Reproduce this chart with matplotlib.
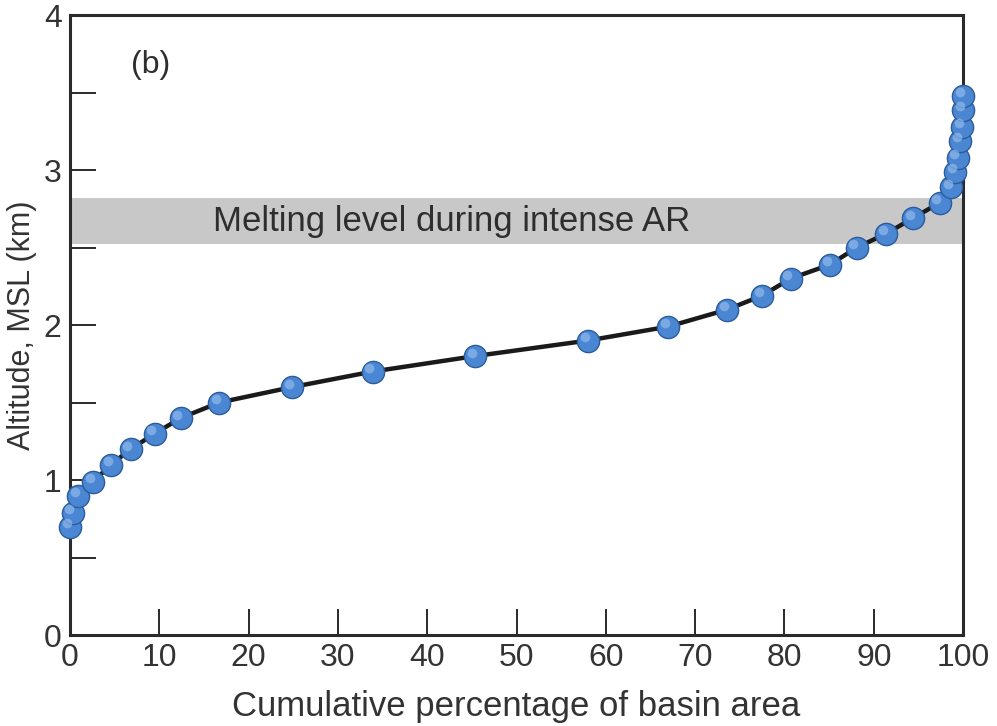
import matplotlib
matplotlib.use("Agg")
import matplotlib.pyplot as plt
from matplotlib.ticker import MultipleLocator
from matplotlib.transforms import offset_copy

plt.rcParams["font.family"] = ["Liberation Sans", "DejaVu Sans"]

# hypsometric curve
area_pct = [0.0, 0.3, 0.9, 2.6, 4.6, 6.8, 9.5, 12.4, 16.7, 24.9, 33.9, 45.4,
            58.0, 67.0, 73.6, 77.5, 80.7, 85.1, 88.1, 91.4, 94.4, 97.4, 98.7,
            99.1, 99.4, 99.7, 99.9, 100.0, 100.0]
altitude_km = [0.70, 0.79, 0.90, 0.99, 1.10, 1.20, 1.30, 1.40, 1.50, 1.60,
               1.70, 1.80, 1.90, 1.99, 2.10, 2.19, 2.30, 2.39, 2.50, 2.59,
               2.69, 2.79, 2.89, 2.99, 3.08, 3.19, 3.28, 3.39, 3.48]
melt_band = (2.52, 2.82)
band_label = "Melting level during intense AR"

fig = plt.figure(figsize=(9.97, 7.26), dpi=100)
ax = fig.add_axes([0.0702, 0.1253, 0.8958, 0.854])

ax.axhspan(melt_band[0], melt_band[1], color="#c8c8c8", zorder=1, lw=0)
ax.text(16, sum(melt_band) / 2, band_label, fontsize=25, color="#2e2e2e",
        va="center", ha="left", zorder=2)

ax.plot(area_pct, altitude_km, color="#1a1a1a", lw=3.2, zorder=3,
        solid_capstyle="round")
ax.plot(area_pct, altitude_km, "o", ms=16, mfc="#4a86d2", mec="#2c5c9c",
        mew=1.0, zorder=4, ls="none", clip_on=False)
# small highlight up and left of centre for a shaded-ball look
hl = offset_copy(ax.transData, fig=fig, x=-2.5, y=2.5, units="points")
ax.plot(area_pct, altitude_km, "o", ms=7, mfc="#9cc2ef", mec="none",
        alpha=0.6, zorder=5, ls="none", transform=hl, clip_on=False)

ax.text(9, 3.68, "(b)", fontsize=23, color="#2e2e2e", ha="center", va="center")

ax.set_xlim(0, 100)
ax.set_ylim(0, 4)
ax.xaxis.set_major_locator(MultipleLocator(10))
ax.yaxis.set_major_locator(MultipleLocator(1))
ax.yaxis.set_minor_locator(MultipleLocator(0.5))

for side in ["top", "right", "bottom", "left"]:
    ax.spines[side].set_linewidth(2.2)
    ax.spines[side].set_color("#2a2a2a")

ax.tick_params(axis="both", which="both", direction="in", length=19,
               width=1.4, color="#2a2a2a", labelsize=23, labelcolor="#333333",
               top=False, right=False, pad=6)

ax.set_xlabel("Cumulative percentage of basin area", fontsize=25,
              color="#333333", labelpad=12)
ax.set_ylabel("Altitude, MSL (km)", fontsize=22, color="#333333", labelpad=5)

fig.savefig("out.png", dpi=100)
